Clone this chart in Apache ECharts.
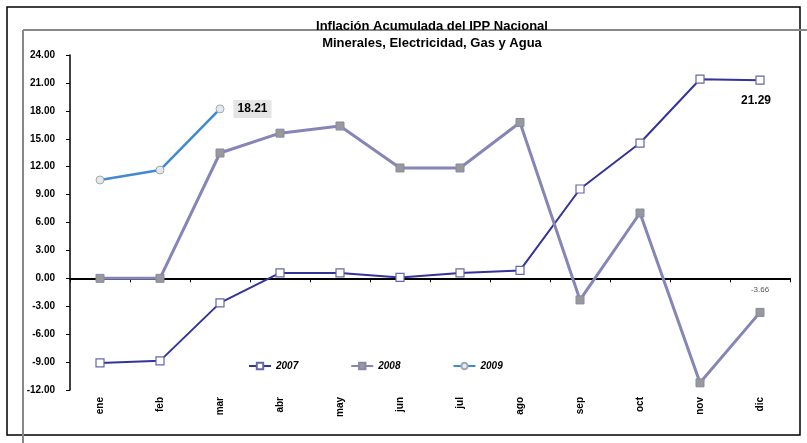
<!DOCTYPE html>
<html>
<head>
<meta charset="utf-8">
<script src="https://cdn.jsdelivr.net/npm/echarts@6/dist/echarts.min.js"></script>
<style>html,body{margin:0;padding:0;background:#fff}#c{width:807px;height:443px}</style>
</head>
<body>
<div id="c"></div>
<script>
var months = ['ene','feb','mar','abr','may','jun','jul','ago','sep','oct','nov','dic'];
var s2007 = [-9.09,-8.87,-2.64,0.58,0.58,0.10,0.58,0.85,9.60,14.54,21.40,21.29];
var s2008 = [0.00,0.00,13.47,15.60,16.37,11.86,11.86,16.75,-2.32,7.02,-11.23,-3.66];
var s2009 = [10.57,11.64,18.21];
var titleLines = ['Inflación Acumulada del IPP Nacional','Minerales, Electricidad, Gas y Agua'];

var chart = echarts.init(document.getElementById('c'));
function lastLabel(arr, opts) {
  return arr.map(function (v, i) {
    if (i === arr.length - 1) return { value: v, label: opts };
    return v;
  });
}
chart.setOption({
  animation: false,
  textStyle: { fontFamily: 'Liberation Sans' },
  title: {
    text: titleLines.join('\n'),
    left: 427, textAlign: 'center', top: 13,
    textStyle: { fontSize: 13, fontWeight: 'bold', color: '#000', lineHeight: 17, fontFamily: 'Liberation Sans Narrow, Liberation Sans' }
  },
  legend: {
    left: 243, top: 356, itemGap: 52, itemWidth: 22, itemHeight: 8,
    textStyle: { fontSize: 10, fontWeight: 'bold', fontStyle: 'italic', color: '#000' },
    data: ['2007','2008','2009']
  },
  graphic: [
    { type: 'rect', shape: { x: 7, y: 7, width: 793, height: 428 }, style: { fill: 'none', stroke: '#000', lineWidth: 1.5 }, silent: true },
    { type: 'line', shape: { x1: 23, y1: 30, x2: 807, y2: 30 }, style: { stroke: '#888', lineWidth: 2 }, silent: true },
    { type: 'line', shape: { x1: 23, y1: 30, x2: 23, y2: 443 }, style: { stroke: '#888', lineWidth: 2 }, silent: true }
  ],
  grid: { left: 70, right: 17, top: 55, bottom: 53 },
  xAxis: [
    {
      type: 'category', data: months, position: 'bottom',
      axisLine: { show: false, onZero: false }, axisTick: { show: false },
      axisLabel: { rotate: 90, fontSize: 10, fontWeight: 'bold', color: '#000', margin: 7 }
    },
    {
      type: 'category', data: months,
      axisLine: { show: true, onZero: true, lineStyle: { color: '#000', width: 2 } },
      axisTick: { show: true, length: 4, inside: true, lineStyle: { color: '#000' } },
      axisLabel: { show: false }
    }
  ],
  yAxis: {
    type: 'value', min: -12, max: 24, interval: 3,
    splitLine: { show: false },
    axisLine: { show: true, lineStyle: { color: '#000', width: 1.5 } },
    axisTick: { show: true, length: 4, lineStyle: { color: '#000' } },
    axisLabel: { fontSize: 10, fontWeight: 'bold', color: '#000', margin: 15, formatter: function (v) { return v.toFixed(2); } }
  },
  series: [
    {
      name: '2007', type: 'line', xAxisIndex: 0,
      data: lastLabel(s2007, { show: true, position: 'bottom', distance: 10, offset: [-4, 0], fontSize: 12, fontWeight: 'bold', color: '#000', formatter: function (p) { return p.value.toFixed(2); } }),
      symbol: 'rect', symbolSize: 8,
      lineStyle: { color: '#333399', width: 2 },
      itemStyle: { color: '#fff', borderColor: '#6666aa', borderWidth: 1.2 }
    },
    {
      name: '2008', type: 'line', xAxisIndex: 0,
      data: lastLabel(s2008, { show: true, position: 'top', distance: 14, fontSize: 8, color: '#555', formatter: function (p) { return p.value.toFixed(2); } }),
      symbol: 'rect', symbolSize: 8,
      lineStyle: { color: '#8585b8', width: 3 },
      itemStyle: { color: '#999', borderColor: '#8888aa', borderWidth: 1 }
    },
    {
      name: '2009', type: 'line', xAxisIndex: 0,
      data: lastLabel(s2009, { show: true, position: 'right', distance: 9, fontSize: 12, fontWeight: 'bold', color: '#000', backgroundColor: '#e4e4e4', padding: [3, 4], formatter: function (p) { return p.value.toFixed(2); } }),
      symbol: 'circle', symbolSize: 8,
      lineStyle: { color: '#3f8ad2', width: 2.5 },
      itemStyle: { color: '#e8e8e8', borderColor: '#9ab', borderWidth: 1 }
    }
  ]
});
</script>
</body>
</html>
